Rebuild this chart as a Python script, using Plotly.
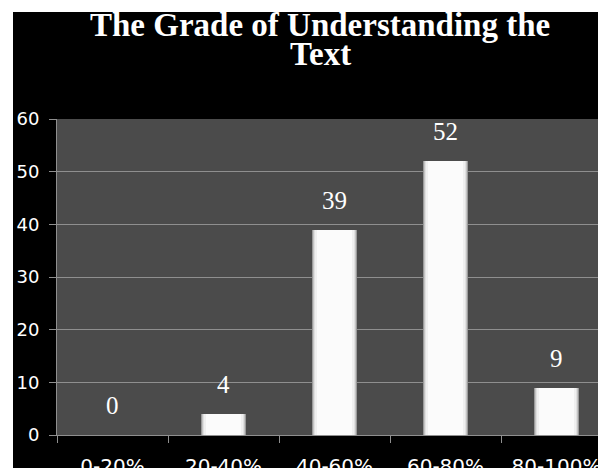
import plotly.graph_objects as go

# Survey results: how well the text was understood
categories = ["0-20%", "20-40%", "40-60%", "60-80%", "80-100%"]
counts = [0, 4, 39, 52, 9]
y_ticks = [0, 10, 20, 30, 40, 50, 60]
title_lines = ["The Grade of Understanding the", "Text"]

W, H = 598, 468
L, R, T, B = 57, 0, 119, 33
plot_w = W - L - R
plot_h = H - T - B
cat_px = 111.0


def px_x(p):
    return (p - L) / plot_w


def px_y(p):
    return (H - B - p) / plot_h


fig = go.Figure()

# Layered bars of shrinking width give the rounded, shaded column look
layers = [
    (0.40, "#9a9a9a"),
    (0.388, "#c4c4c4"),
    (0.374, "#e0e0e0"),
    (0.356, "#f0f0f0"),
    (0.32, "#fbfbfb"),
]
for w, col in layers:
    fig.add_trace(go.Bar(
        x=categories, y=counts, width=w,
        marker=dict(color=col, line=dict(width=0)),
        hoverinfo="skip", showlegend=False,
    ))

# Value labels above each column
for cat, v in zip(categories, counts):
    fig.add_annotation(
        x=cat, y=v, xref="x", yref="y", text=str(v),
        showarrow=False, yanchor="bottom", yshift=14,
        font=dict(family="Liberation Serif", size=25, color="white"),
    )

# Two-line bold serif title
for line, py in zip(title_lines, [25, 54]):
    fig.add_annotation(
        x=px_x(320), y=px_y(py), xref="paper", yref="paper",
        text="<b>%s</b>" % line, showarrow=False,
        xanchor="center", yanchor="middle",
        font=dict(family="Liberation Serif", size=33, color="white"),
    )

# Black chart panel (inset from the top-left page corner) and the grey plot area
fig.add_shape(type="rect", xref="paper", yref="paper",
              x0=px_x(13), x1=px_x(W + 10), y0=px_y(H + 10), y1=px_y(12),
              fillcolor="black", line=dict(width=0), layer="below")
fig.add_shape(type="rect", xref="paper", yref="paper",
              x0=0, x1=1, y0=0, y1=1,
              fillcolor="#4b4b4b", line=dict(width=0), layer="below")

grid = "#8f8f8f"
fig.update_layout(
    width=W, height=H,
    margin=dict(l=L, r=R, t=T, b=B, pad=0),
    paper_bgcolor="white",
    plot_bgcolor="#4b4b4b",
    barmode="overlay",
    bargap=0,
    xaxis=dict(
        range=[-0.5, -0.5 + plot_w / cat_px],
        showgrid=False, zeroline=False,
        showline=True, linecolor=grid, linewidth=1,
        ticks="outside", tickson="boundaries", ticklen=7, tickcolor=grid,
        tickfont=dict(family="DejaVu Sans", size=20, color="white"),
        ticklabelstandoff=13,
        automargin=False,
        fixedrange=True,
    ),
    yaxis=dict(
        range=[0, 60], tickvals=y_ticks,
        showgrid=True, gridcolor=grid, gridwidth=1,
        zeroline=False,
        showline=True, linecolor=grid, linewidth=1,
        ticks="outside", ticklen=7, tickcolor=grid,
        tickfont=dict(family="DejaVu Sans", size=18, color="white"),
        ticklabelstandoff=6,
        automargin=False,
    ),
)

fig.write_html("out.html")
